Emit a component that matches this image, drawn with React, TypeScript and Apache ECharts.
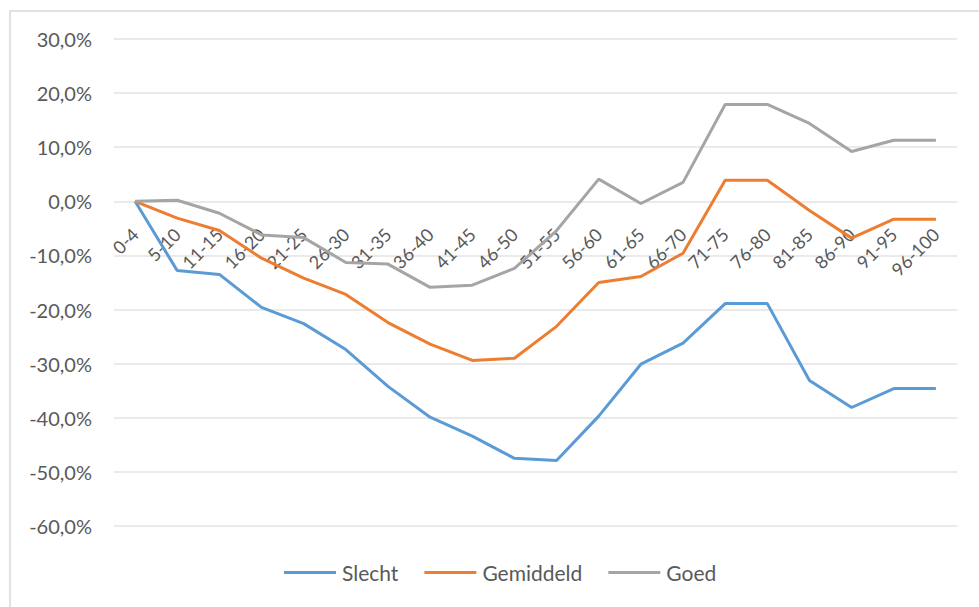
import React, { useEffect, useRef } from "react";
import * as echarts from "echarts";

const categories = [
  "0-4", "5-10", "11-15", "16-20", "21-25", "26-30", "31-35", "36-40", "41-45", "46-50",
  "51-55", "56-60", "61-65", "66-70", "71-75", "76-80", "81-85", "86-90", "91-95", "96-100",
];
const slecht = [0, -12.8, -13.5, -19.6, -22.6, -27.4, -34.2, -39.9, -43.4, -47.5, -47.9, -39.7, -30.1, -26.2, -18.9, -18.9, -33.1, -38.1, -34.6, -34.6];
const gemiddeld = [0, -3.1, -5.4, -10.5, -14.2, -17.2, -22.4, -26.4, -29.4, -29.0, -23.1, -15.0, -13.9, -9.6, 3.9, 3.9, -1.7, -6.8, -3.3, -3.3];
const goed = [0, 0.2, -2.2, -6.2, -6.7, -11.3, -11.6, -15.9, -15.5, -12.4, -5.4, 4.1, -0.4, 3.5, 17.9, 17.9, 14.4, 9.2, 11.3, 11.3];
const seriesNames = ["Slecht", "Gemiddeld", "Goed"];
const colors = ["#5B9BD5", "#ED7D31", "#A5A5A5"];
const yMin = -60;
const yMax = 30;
const yStep = 10;

export default function App() {
  const ref = useRef<HTMLDivElement>(null);
  useEffect(() => {
    if (!ref.current) return;
    const chart = echarts.init(ref.current, null, { renderer: "svg" });
    const font = "Lato, 'Noto Sans', sans-serif";
    const data = [slecht, gemiddeld, goed];
    const gridTop = 39;
    const gridBottom = 81;
    const gridHeight = 607 - gridTop - gridBottom;
    const zeroOffset = -((0 - yMin) / (yMax - yMin)) * gridHeight;
    chart.setOption({
      animation: false,
      backgroundColor: "#ffffff",
      textStyle: { fontFamily: font },
      graphic: [
        {
          type: "rect",
          shape: { x: 10, y: 11, width: 990, height: 620 },
          style: { fill: "none", stroke: "#d9d9d9", lineWidth: 1.5 },
          silent: true,
        },
      ],
      grid: { left: 114, right: 22, top: gridTop, bottom: gridBottom, containLabel: false },
      legend: {
        bottom: 19,
        left: 279,
        icon: "rect",
        itemWidth: 52,
        itemHeight: 3,
        itemGap: 26,
        textStyle: { color: "#595959", fontSize: 21, fontFamily: font, padding: [0, 0, 0, 1] },
        data: seriesNames,
      },
      xAxis: {
        type: "category",
        data: categories,
        boundaryGap: true,
        offset: zeroOffset,
        axisLine: { show: false, onZero: false },
        axisTick: { show: false },
        axisLabel: {
          rotate: 45,
          color: "#595959",
          fontSize: 18,
          margin: 17,
          interval: 0,
          verticalAlign: "top",
          padding: [0, 9, 0, 0],
          fontFamily: font,
        },
        splitLine: { show: false },
      },
      yAxis: {
        type: "value",
        min: yMin,
        max: yMax,
        interval: yStep,
        axisLine: { show: false },
        axisTick: { show: false },
        axisLabel: {
          color: "#595959",
          fontSize: 20,
          margin: 22,
          fontFamily: font,
          formatter: (v: number) => v.toFixed(1).replace(".", ",") + "%",
        },
        splitLine: { lineStyle: { color: "#e3e3e3", width: 1.5 } },
      },
      series: seriesNames.map((name, i) => ({
        name,
        type: "line",
        data: data[i],
        symbol: "none",
        color: colors[i],
        lineStyle: { width: 3, color: colors[i] },
      })),
    });
    return () => chart.dispose();
  }, []);
  return <div ref={ref} style={{ position: "fixed", left: 0, top: 0, width: 979, height: 607 }} />;
}
